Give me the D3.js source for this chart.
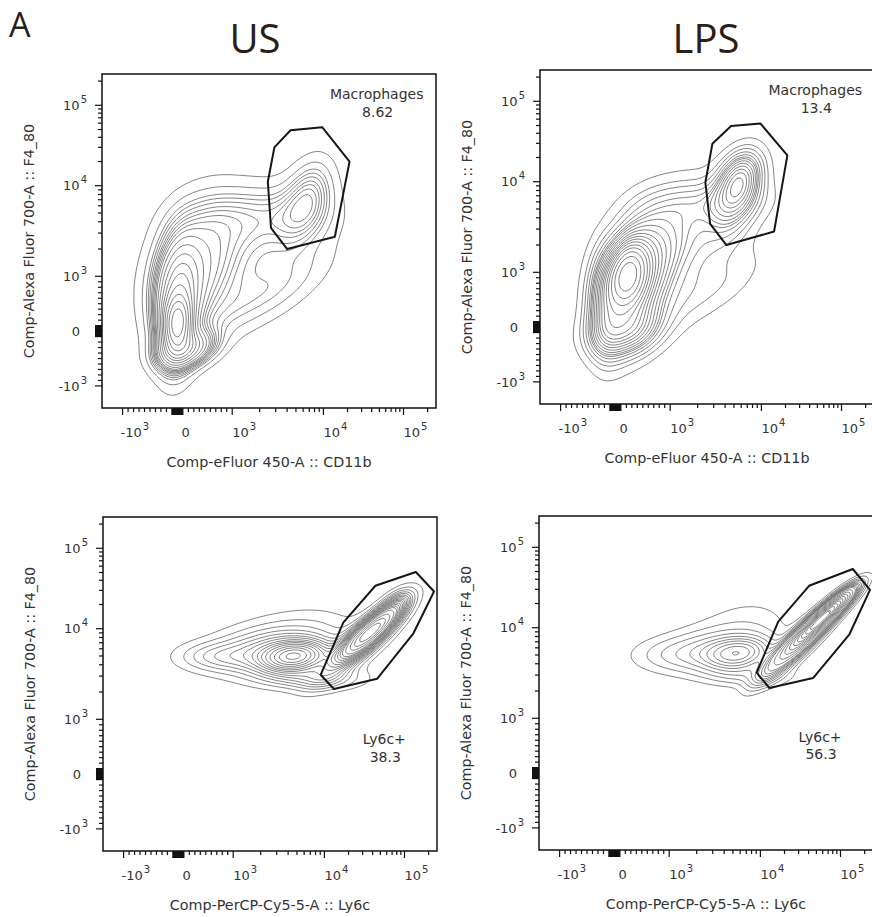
<!DOCTYPE html>
<html><head><meta charset="utf-8">
<script src="https://cdn.jsdelivr.net/npm/d3@7"></script>
<style>body{margin:0;background:#fff}svg{display:block}</style>
</head><body>
<svg id="chart" width="872" height="917"></svg>
<script>
// ---------------- DATA ----------------
const conditions = ["US", "LPS"];
const panelLetter = "A";
const xTitles = ["Comp-eFluor 450-A :: CD11b", "Comp-PerCP-Cy5-5-A :: Ly6c"];
const yTitle = "Comp-Alexa Fluor 700-A :: F4_80";
const majorTicks = [-1000, 1000, 10000, 100000];
const tickLabels = [["-10", "3"], ["0", ""], ["10", "3"], ["10", "4"], ["10", "5"]];
const tickLabelValues = [-1000, 0, 1000, 10000, 100000];
const gateNames = ["Macrophages", "Macrophages", "Ly6c+", "Ly6c+"];
const gatePercents = ["8.62", "13.4", "38.3", "56.3"];

// density components (centre in fluorescence units, spread in display decades, relative weight)
const usTopCx  = [0, 0, 266, 905, 2123, 7130, 5820, 2408, 175];
const usTopCy  = [130, 458, 1060, 1763, 4630, 8510, 4875, 677, -327];
const usTopSx  = [0.09, 0.15, 0.30, 0.50, 0.55, 0.17, 0.22, 0.50, 0.20];
const usTopSy  = [0.18, 0.42, 0.50, 0.45, 0.22, 0.26, 0.33, 0.33, 0.13];
const usTopRho = [0.1, 0.15, 0.3, 0.35, 0.05, 0.3, 0.4, 0.75, 0.3];
const usTopW   = [8, 16, 16, 14, 6, 2.5, 3, 5, 5];

const lpsTopCx  = [212, -190, 303, 723, 1453, 2408, 5820, 5135, 2730, 175];
const lpsTopCy  = [951, 403, 768, 1367, 2929, 5970, 11440, 6280, 677, -89];
const lpsTopSx  = [0.13, 0.13, 0.24, 0.38, 0.49, 0.49, 0.16, 0.19, 0.44, 0.27];
const lpsTopSy  = [0.22, 0.38, 0.44, 0.49, 0.38, 0.16, 0.20, 0.30, 0.31, 0.18];
const lpsTopRho = [0.2, 0, 0.3, 0.45, 0.4, 0.1, 0.3, 0.4, 0.7, 0.2];
const lpsTopW   = [8, 5, 18, 14, 7, 3, 4, 5, 3.5, 5];

const usBotCx  = [4827, 2432, 634, 5916, 7622, 37500, 26650, 72400];
const usBotCy  = [4887, 5546, 4887, 8530, 2800, 9205, 6620, 18670];
const usBotSx  = [0.24, 0.42, 0.30, 0.44, 0.38, 0.20, 0.31, 0.13];
const usBotSy  = [0.11, 0.18, 0.11, 0.22, 0.09, 0.18, 0.27, 0.13];
const usBotRho = [0.2, 0.1, 0, 0.2, 0, 0.85, 0.85, 0.6];
const usBotW   = [10, 12, 3, 6, 4, 18, 8, 2];

const lpsBotCx  = [5916, 2761, 1000, 6714, 7622, 54400, 26650, 90000];
const lpsBotCy  = [5140, 5546, 4887, 9930, 2945, 12130, 5985, 20000];
const lpsBotSx  = [0.24, 0.38, 0.33, 0.38, 0.33, 0.21, 0.24, 0.13];
const lpsBotSy  = [0.12, 0.16, 0.13, 0.24, 0.09, 0.19, 0.22, 0.12];
const lpsBotRho = [0.2, 0.1, 0, 0.2, 0, 0.92, 0.9, 0.85];
const lpsBotW   = [6, 6, 2, 4, 2, 18, 10, 3];

// gates (fluorescence units)
const usTopGateX  = [2900, 4360, 9700, 21200, 13900, 4010, 2660, 2460];
const usTopGateY  = [30000, 49000, 53400, 19950, 2730, 2000, 3430, 11200];
const lpsTopGateX = [2900, 4650, 9740, 21100, 14400, 4140, 2740, 2430];
const lpsTopGateY = [29600, 49300, 53100, 21300, 2820, 2000, 3430, 9800];
const usBotGateX  = [9100, 17200, 43300, 138500, 233600, 129300, 45450, 13150];
const usBotGateY  = [3100, 11900, 34200, 50700, 29000, 8900, 2800, 2160];
const lpsBotGateX = [9100, 16700, 40550, 142500, 233600, 129300, 45450, 12930];
const lpsBotGateY = [3200, 11900, 33200, 53700, 29600, 8460, 2780, 2160];

// contour levels: equal-probability (5 %)
const contourLevels = d3.range(1, 20).map(k => k * 0.05);

// ---------------- LAYOUT ----------------
const W = 334, H = 334;
const svg = d3.select("#chart");
const FONT = "'DejaVu Sans', Verdana, sans-serif";

// biexponential-like display transform: linear within +-1000, log above
const T = v => Math.abs(v) <= 1000 ? v / 1000 : Math.sign(v) * (1 + Math.log10(Math.abs(v) / 1000));
const xLin = d3.scaleLinear().domain([-1, 1, 2, 3]).range([20.6, 130.2, 221.4, 301.5]);
const yLin = d3.scaleLinear().domain([-1, 1, 2, 3]).range([311.9, 202.3, 111.7, 31.3]);
const xS = v => xLin(T(v));
const yS = v => yLin(T(v));
const DEC = xLin(2) - xLin(1);

const minorTicks = [].concat(
  d3.range(-900, -100, 100), d3.range(-100, 101, 10), d3.range(200, 1000, 100),
  d3.range(2000, 10000, 1000), d3.range(20000, 100000, 10000), [200000]);

const panels = [
  {x: 102, y: 74, cx: usTopCx, cy: usTopCy, sx: usTopSx, sy: usTopSy, r: usTopRho, w: usTopW, gx: usTopGateX, gy: usTopGateY, row: 0, lab: [274.7, 20], labGap: 18},
  {x: 540, y: 70, cx: lpsTopCx, cy: lpsTopCy, sx: lpsTopSx, sy: lpsTopSy, r: lpsTopRho, w: lpsTopW, gx: lpsTopGateX, gy: lpsTopGateY, row: 0, lab: [275.3, 20], labGap: 18},
  {x: 103, y: 517, cx: usBotCx, cy: usBotCy, sx: usBotSx, sy: usBotSy, r: usBotRho, w: usBotW, gx: usBotGateX, gy: usBotGateY, row: 1, lab: [281.3, 222.3], labGap: 17.5},
  {x: 539, y: 516, cx: lpsBotCx, cy: lpsBotCy, sx: lpsBotSx, sy: lpsBotSy, r: lpsBotRho, w: lpsBotW, gx: lpsBotGateX, gy: lpsBotGateY, row: 1, lab: [281, 220.7], labGap: 17.5}
];

// headings
svg.append("text").attr("x", 9).attr("y", 37).attr("font-family", "'Open Sans', sans-serif")
  .attr("font-size", 34).attr("fill", "#2b1d17").text(panelLetter);
[255, 706].forEach((cx, i) => svg.append("text").attr("x", cx).attr("y", 53)
  .attr("text-anchor", "middle").attr("font-family", "'Open Sans', sans-serif")
  .attr("font-size", 40).attr("fill", "#2b1d17").text(conditions[i]));

panels.forEach((p, pi) => {
  const g = svg.append("g").attr("transform", `translate(${p.x},${p.y})`);
  const clipId = "clip" + pi;
  g.append("clipPath").attr("id", clipId).append("rect").attr("width", W).attr("height", H);

  // density grid in display space
  const step = 2, n = Math.ceil(W / step), m = Math.ceil(H / step);
  const comps = p.cx.map((c, i) => ({
    px: xS(c), py: yS(p.cy[i]), sx: p.sx[i] * DEC, sy: p.sy[i] * DEC, r: p.r[i], w: p.w[i]
  }));
  const vals = new Float64Array(n * m);
  for (let j = 0; j < m; j++) {
    const py = (j + 0.5) * step;
    for (let i = 0; i < n; i++) {
      const px = (i + 0.5) * step;
      let s = 0;
      for (const c of comps) {
        const dx = (px - c.px) / c.sx, dy = (c.py - py) / c.sy;
        const om = 1 - c.r * c.r;
        const q = (dx * dx - 2 * c.r * dx * dy + dy * dy) / om;
        s += c.w / (c.sx * c.sy * Math.sqrt(om)) * Math.exp(-q / 2);
      }
      vals[j * n + i] = s;
    }
  }
  const sorted = Float64Array.from(vals).sort();
  const total = d3.sum(sorted);
  const th = [];
  let cum = 0, k = 0;
  for (let idx = 0; idx < sorted.length && k < contourLevels.length; idx++) {
    cum += sorted[idx];
    while (k < contourLevels.length && cum >= contourLevels[k] * total) { th.push(sorted[idx]); k++; }
  }
  const contours = d3.contours().size([n, m]).thresholds(th)(vals);
  const path = d3.geoPath(d3.geoIdentity().scale(step));
  g.append("g").attr("clip-path", `url(#${clipId})`).selectAll("path").data(contours).join("path")
    .attr("d", path).attr("fill", "none").attr("stroke", "#707070").attr("stroke-width", 0.85);

  // gate
  const gate = p.gx.map((v, i) => [xS(v), yS(p.gy[i])]);
  g.append("path").attr("d", d3.line()(gate) + "Z").attr("fill", "none")
    .attr("stroke", "#161616").attr("stroke-width", 2).attr("stroke-linejoin", "round");

  // gate label
  g.append("text").attr("x", p.lab[0]).attr("y", p.lab[1]).attr("dy", "0.36em").attr("text-anchor", "middle")
    .attr("font-family", FONT).attr("font-size", 14).attr("fill", "#333").text(gateNames[pi]);
  g.append("text").attr("x", p.lab[0] + 1).attr("y", p.lab[1] + p.labGap).attr("dy", "0.36em").attr("text-anchor", "middle")
    .attr("font-family", FONT).attr("font-size", 14).attr("fill", "#333").text(gatePercents[pi]);

  // frame
  g.append("rect").attr("width", W).attr("height", H).attr("fill", "none")
    .attr("stroke", "#111").attr("stroke-width", 1.5);

  // ticks
  const tk = g.append("g").attr("stroke", "#111").attr("stroke-width", 1.2);
  majorTicks.forEach(v => {
    tk.append("line").attr("x1", xS(v)).attr("x2", xS(v)).attr("y1", H).attr("y2", H + 7);
    tk.append("line").attr("y1", yS(v)).attr("y2", yS(v)).attr("x1", 0).attr("x2", -7);
  });
  minorTicks.forEach(v => {
    const len = Math.abs(v) <= 100 ? 7 : 4;
    tk.append("line").attr("x1", xS(v)).attr("x2", xS(v)).attr("y1", H).attr("y2", H + len);
    tk.append("line").attr("y1", yS(v)).attr("y2", yS(v)).attr("x1", 0).attr("x2", -len);
  });

  // tick labels
  tickLabelValues.forEach((v, i) => {
    const [base, sup] = tickLabels[i];
    const dxStart = v === 0 ? 4 : (v < 0 ? -2 : 0);
    const tx = g.append("text").attr("x", xS(v) + dxStart).attr("y", H + 28.5)
      .attr("font-family", FONT).attr("font-size", 13).attr("fill", "#333");
    tx.append("tspan").text(base);
    if (sup) tx.append("tspan").attr("dy", -7).attr("font-size", 10).attr("dx", 1).text(sup);

    const ty = g.append("text").attr("y", yS(v)).attr("dy", "0.36em")
      .attr("x", v === 0 ? -22 : -15).attr("text-anchor", "end")
      .attr("font-family", FONT).attr("font-size", 13).attr("fill", "#333");
    ty.append("tspan").text(base);
    if (sup) ty.append("tspan").attr("dy", -7).attr("font-size", 10).attr("dx", 1).text(sup);
  });

  // axis titles
  g.append("text").attr("x", W / 2).attr("y", H + 54).attr("dy", "0.36em").attr("text-anchor", "middle")
    .attr("font-family", FONT).attr("font-size", 14.3).attr("fill", "#333").text(xTitles[p.row]);
  g.append("text").attr("transform", `translate(-73,${H / 2}) rotate(-90)`).attr("dy", "0.36em")
    .attr("text-anchor", "middle").attr("font-family", FONT).attr("font-size", 14.3).attr("fill", "#333").text(yTitle);
});
</script>
</body></html>
